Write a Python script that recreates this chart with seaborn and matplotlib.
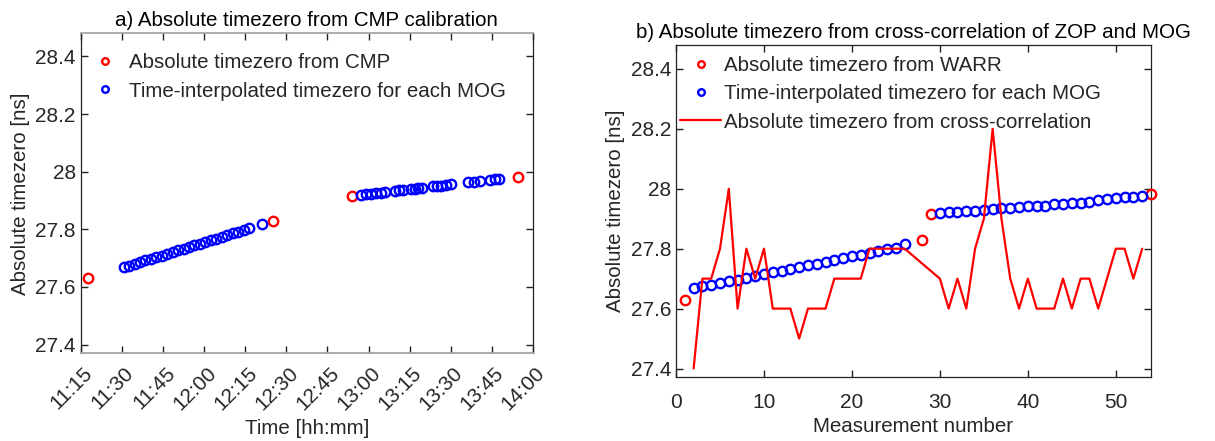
import matplotlib
matplotlib.use("Agg")
import matplotlib.pyplot as plt
import matplotlib.dates as mdates
import matplotlib.transforms as mtransforms
from matplotlib.ticker import FuncFormatter
import pandas as pd
import seaborn as sns

# ---------------- data ----------------
cmp_times = ["11:17:48", "12:25:00", "12:54:06", "13:54:30"]
cmp_values = [27.630, 27.829, 27.916, 27.983]

mog_times = [
    "11:30:42", "11:32:42", "11:34:42", "11:36:42", "11:38:36", "11:40:36",
    "11:42:36", "11:44:36", "11:46:36", "11:48:36", "11:50:36", "11:52:36",
    "11:54:30", "11:56:30", "11:58:30", "12:00:30", "12:02:30", "12:04:30",
    "12:06:30", "12:08:24", "12:10:24", "12:12:24", "12:14:24", "12:16:24",
    "12:21:06",
    "12:57:12", "12:59:00", "13:00:48", "13:02:36", "13:04:24", "13:06:06",
    "13:09:36", "13:11:00", "13:12:24", "13:15:36", "13:16:54", "13:18:12",
    "13:19:30", "13:23:24", "13:25:00", "13:26:36", "13:28:12", "13:29:54",
    "13:36:12", "13:38:24", "13:40:36", "13:44:18", "13:46:00", "13:47:36",
]
mog_values = [
    27.668, 27.674, 27.680, 27.686, 27.692, 27.697, 27.703, 27.709, 27.715,
    27.721, 27.727, 27.733, 27.739, 27.745, 27.750, 27.756, 27.762, 27.768,
    27.774, 27.780, 27.786, 27.792, 27.798, 27.803, 27.817,
    27.919, 27.921, 27.923, 27.925, 27.927, 27.929, 27.933, 27.935, 27.936,
    27.940, 27.941, 27.943, 27.944, 27.949, 27.950, 27.952, 27.954, 27.956,
    27.963, 27.965, 27.968, 27.972, 27.974, 27.975,
]

warr_numbers = [1, 28, 29, 54]
mog_numbers = [
    2, 3, 4, 5, 6, 7, 8, 9, 10, 11, 12, 13, 14, 15, 16, 17, 18, 19, 20, 21,
    22, 23, 24, 25, 26,
    30, 31, 32, 33, 34, 35, 36, 37, 38, 39, 40, 41, 42, 43, 44, 45, 46, 47,
    48, 49, 50, 51, 52, 53,
]
xcorr_values = [
    27.4, 27.7, 27.7, 27.8, 28.0, 27.6, 27.8, 27.7, 27.8, 27.6, 27.6, 27.6,
    27.5, 27.6, 27.6, 27.6, 27.7, 27.7, 27.7, 27.7, 27.8, 27.8, 27.8, 27.8,
    27.8,
    27.7, 27.6, 27.7, 27.6, 27.8, 27.9, 28.2, 27.9, 27.7, 27.6, 27.7, 27.6,
    27.6, 27.6, 27.7, 27.6, 27.7, 27.7, 27.6, 27.7, 27.8, 27.8, 27.7, 27.8,
]

time_limits = ["11:15", "14:00"]
y_ticks = [27.4, 27.6, 27.8, 28.0, 28.2, 28.4]
x_ticks_b = [0, 10, 20, 30, 40, 50]

titles = ["a) Absolute timezero from CMP calibration",
          "b) Absolute timezero from cross-correlation of ZOP and MOG"]

# ---------------- style ----------------
sns.set_theme(style="ticks")
plt.rcParams["font.family"] = ["Liberation Sans", "DejaVu Sans"]
FS = 14.8
TFS = 15.0
TXT = "#262626"

day = "2021-06-01 "
cmp_dt = pd.to_datetime([day + t for t in cmp_times])
mog_dt = pd.to_datetime([day + t for t in mog_times])
xlim_dt = pd.to_datetime([day + t for t in time_limits])

fig = plt.figure(figsize=(12.15, 4.41), dpi=100)
axa = fig.add_axes([0.0664, 0.1989, 0.3723, 0.7256])
axb = fig.add_axes([0.5564, 0.1440, 0.3909, 0.7540])

mk = dict(marker="o", linestyle="", markerfacecolor="none",
          markersize=6.8, markeredgewidth=1.7, clip_on=False, zorder=3)

# panel a
sns.lineplot(x=cmp_dt, y=cmp_values, ax=axa, color="red",
             markeredgecolor="red", label="Absolute timezero from CMP", **mk)
sns.lineplot(x=mog_dt, y=mog_values, ax=axa, color="blue",
             markeredgecolor="blue",
             label="Time-interpolated timezero for each MOG", **mk)

# panel b
sns.lineplot(x=warr_numbers, y=cmp_values, ax=axb, color="red",
             markeredgecolor="red", label="Absolute timezero from WARR", **mk)
sns.lineplot(x=mog_numbers, y=mog_values, ax=axb, color="blue",
             markeredgecolor="blue",
             label="Time-interpolated timezero for each MOG", **mk)
sns.lineplot(x=mog_numbers, y=xcorr_values, ax=axb, color="red",
             linewidth=1.6, zorder=4,
             label="Absolute timezero from cross-correlation")

yfmt = FuncFormatter(lambda v, p: f"{v:g}")
for ax, title, ly in zip([axa, axb], titles, [0.95, 0.979]):
    ax.set_ylim(27.37, 28.48)
    ax.set_yticks(y_ticks)
    ax.yaxis.set_major_formatter(yfmt)
    ax.set_ylabel("Absolute timezero [ns]", fontsize=FS, color=TXT, labelpad=4)
    ax.set_title(title, fontsize=FS, color="black", pad=5)
    ax.tick_params(direction="in", top=True, right=True, length=5,
                   width=1.0, labelsize=TFS, labelcolor=TXT, color="#222222")
    for s in ax.spines.values():
        s.set_color("#222222")
        s.set_linewidth(0.9)
    ax.legend(loc="upper left", bbox_to_anchor=(0, ly), frameon=False,
              fontsize=FS, markerscale=0.7, handlelength=2.0,
              handletextpad=0.15, labelspacing=0.45, borderaxespad=0.1,
              borderpad=0.1)

axa.set_xlim(xlim_dt[0], xlim_dt[1])
axa.xaxis.set_major_locator(mdates.MinuteLocator(byminute=[0, 15, 30, 45]))
axa.xaxis.set_major_formatter(mdates.DateFormatter("%H:%M"))
axa.tick_params(axis="x", pad=12)
fig.canvas.draw()
shift = mtransforms.ScaledTranslation(9 / 100, 0, fig.dpi_scale_trans)
for lab in axa.get_xticklabels():
    lab.set_rotation(45)
    lab.set_ha("right")
    lab.set_va("center")
    lab.set_rotation_mode("anchor")
    lab.set_transform(lab.get_transform() + shift)
axa.set_xlabel("Time [hh:mm]", fontsize=FS, color=TXT)
axa.spines["top"].set_color("#a6a6a6")
axa.spines["bottom"].set_color("#a6a6a6")
axa.spines["top"].set_linewidth(1.3)
axa.spines["bottom"].set_linewidth(1.3)

axb.set_xlim(0, 54)
axb.set_xticks(x_ticks_b)
axb.tick_params(axis="x", pad=11)
axb.set_xlabel("Measurement number", fontsize=FS, color=TXT, labelpad=4)

fig.savefig("out.png", dpi=100)
